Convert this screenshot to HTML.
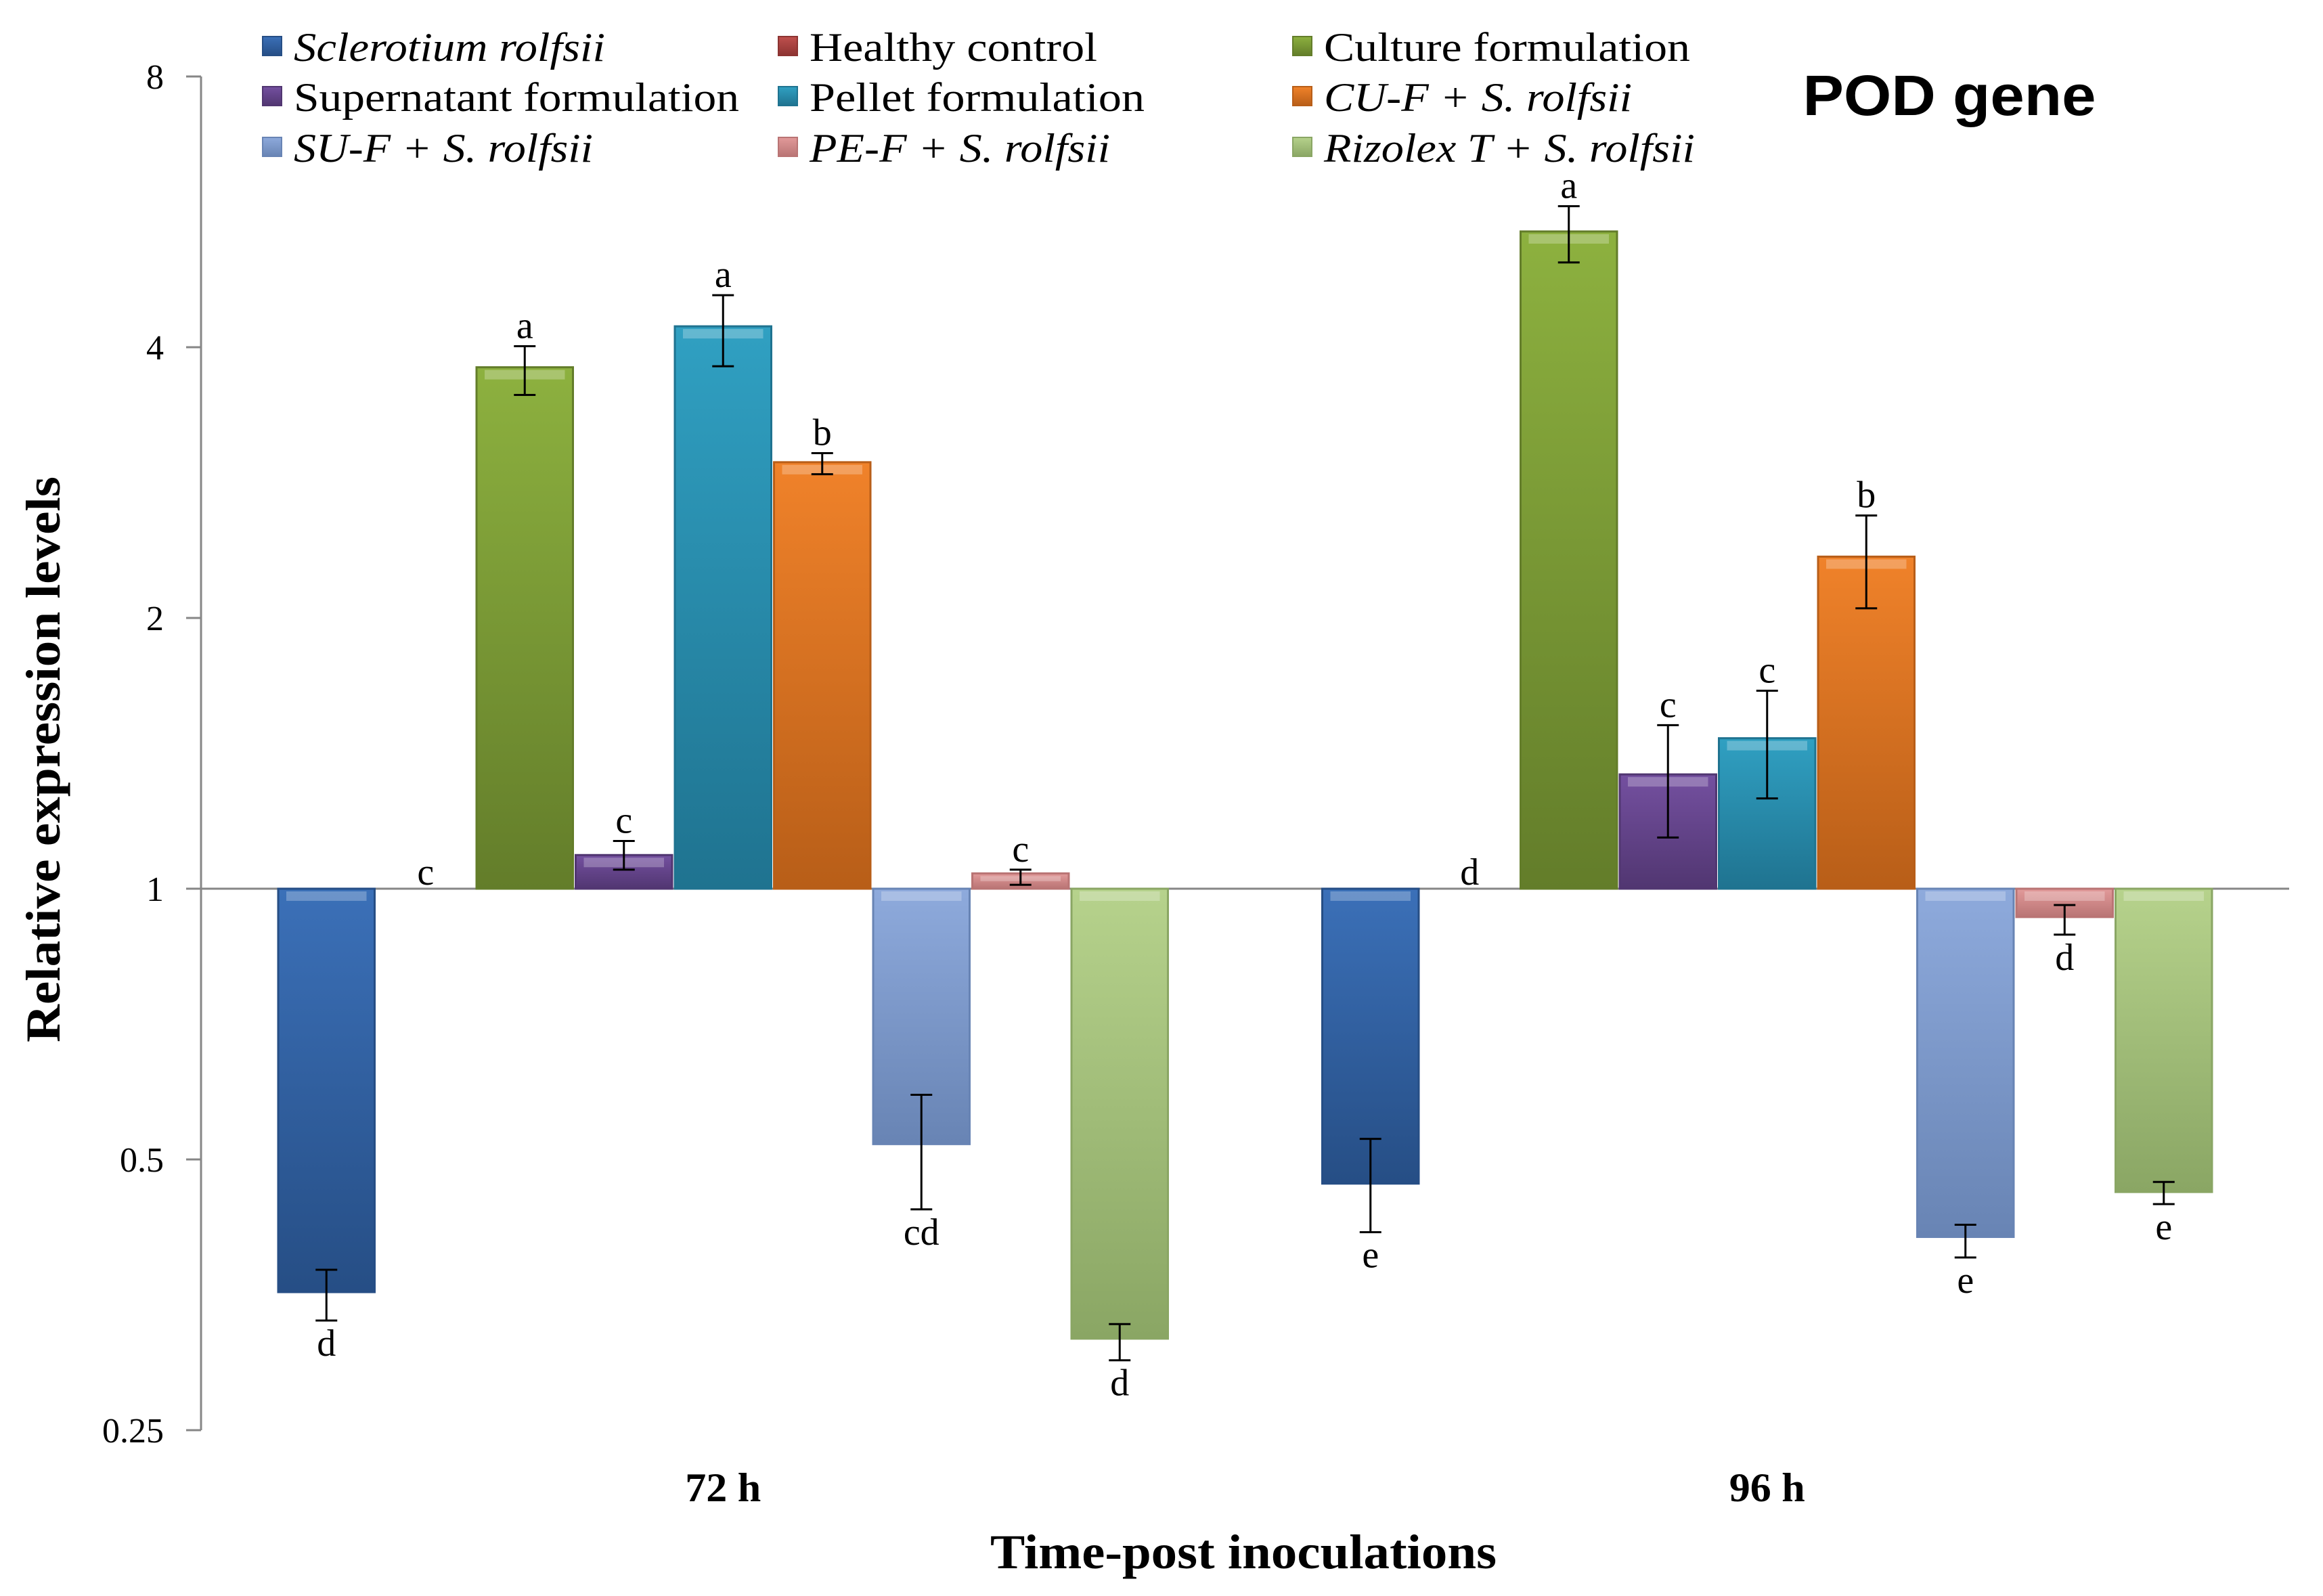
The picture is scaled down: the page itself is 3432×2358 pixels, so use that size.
<!DOCTYPE html>
<html><head><meta charset="utf-8"><style>
html,body{margin:0;padding:0;background:#fff;}
svg{display:block;}
</style></head><body>
<svg id="chart" xmlns="http://www.w3.org/2000/svg" width="3432" height="2358" viewBox="0 0 3432 2358">
<rect width="3432" height="2358" fill="#fff"/>
<g id="axes"></g>
<g id="bars"></g>
<g id="legend"></g>
<text x="2880" y="170" font-family="Liberation Sans, sans-serif" font-weight="bold" font-size="84" text-anchor="middle" textLength="433" lengthAdjust="spacingAndGlyphs">POD gene</text>
<text transform="translate(88,1122) rotate(-90)" font-family="Liberation Serif, serif" font-weight="bold" font-size="72" text-anchor="middle" textLength="836" lengthAdjust="spacingAndGlyphs">Relative expression levels</text>
<text x="1837" y="2317" font-family="Liberation Serif, serif" font-weight="bold" font-size="72" text-anchor="middle" textLength="748" lengthAdjust="spacingAndGlyphs">Time-post inoculations</text>
</svg>
<script>
const categories = ["72 h", "96 h"];
const seriesNames = ["Sclerotium rolfsii","Healthy control","Culture formulation","Supernatant formulation","Pellet formulation","CU-F + S. rolfsii","SU-F + S. rolfsii","PE-F + S. rolfsii","Rizolex T + S. rolfsii"];
const values72 = [0.356, 1, 3.8, 1.09, 4.22, 2.98, 0.52, 1.04, 0.316];
const values96 = [0.47, 1, 5.38, 1.34, 1.47, 2.34, 0.41, 0.93, 0.46];
const errHi72 = [0.377, 1, 4.01, 1.13, 4.57, 3.05, 0.59, 1.05, 0.328];
const errLo72 = [0.331, 1, 3.54, 1.05, 3.81, 2.89, 0.44, 1.01, 0.299];
const errHi96 = [0.527, 1, 5.74, 1.52, 1.66, 2.60, 0.423, 0.959, 0.472];
const errLo96 = [0.415, 1, 4.97, 1.14, 1.26, 2.05, 0.389, 0.889, 0.446];
const letters72 = ["d","c","a","c","a","b","cd","c","d"];
const letters96 = ["e","d","a","c","c","b","e","d","e"];
const yTicks = [0.25, 0.5, 1, 2, 4, 8];
const yTickLabels = ["0.25","0.5","1","2","4","8"];

const NS = "http://www.w3.org/2000/svg";
const colors = ["#3b70b8","#c0504d","#8db13f","#7450a0","#30a0c2","#f0822a","#8eaadc","#e29a9a","#b6d28c"];
const dark = ["#264e85","#8c3432","#637d2a","#513671","#1f7390","#b85e18","#6884b4","#b97474","#8aa664"];
const X0 = 297, X1 = 3382, Y8 = 113, UNIT = 400;
function y(v){ return Y8 + (3 - Math.log2(v)) * UNIT; }
const catW = (X1 - X0) / categories.length;
const barW = 146.5;
function xBar(c, i){ return X0 + catW * c + catW/2 - barW*seriesNames.length/2 + i*barW; }
function mk(tag, attrs, parent){ const e = document.createElementNS(NS, tag); for (const k in attrs) e.setAttribute(k, attrs[k]); parent.appendChild(e); return e; }

const svg = document.getElementById('chart');
const defs = mk('defs', {}, svg);
colors.forEach((c, i) => {
  const g = mk('linearGradient', {id:'g'+i, x1:0, y1:0, x2:0, y2:1}, defs);
  mk('stop', {offset:'0', 'stop-color':c}, g);
  mk('stop', {offset:'1', 'stop-color':dark[i]}, g);
});

const axes = document.getElementById('axes');
const yAxis = mk('line', {x1:X0, y1:Y8, x2:X0, y2:y(0.25), stroke:'#868686', 'stroke-width':3}, axes);


yTicks.forEach((t, i) => {
  const tk = mk('line', {x1:X0-22, y1:y(t), x2:X0, y2:y(t), stroke:'#868686', 'stroke-width':3}, axes);
  
  
  const tl = mk('text', {x:X0-55, y:y(t)+18, 'text-anchor':'end', 'font-family':'Liberation Serif, serif', 'font-size':52}, axes);
  tl.textContent = yTickLabels[i];
  
  
});
categories.forEach((c, ci) => {
  const t = mk('text', {x:X0+catW*ci+catW/2, y:2218, 'text-anchor':'middle', 'font-family':'Liberation Serif, serif', 'font-weight':'bold', 'font-size':60, textLength:112, lengthAdjust:'spacingAndGlyphs'}, axes);
  t.textContent = c;
  
  
});

const bars = document.getElementById('bars');
const allVals = [values72, values96], allHi = [errHi72, errHi96], allLo = [errLo72, errLo96], allLet = [letters72, letters96];
categories.forEach((c, ci) => {
  seriesNames.forEach((s, i) => {
    const v = allVals[ci][i];
    const x = xBar(ci, i);
    const y1 = y(1), yv = y(v);
    const top = Math.min(y1, yv), h = Math.abs(yv - y1);
    if (h > 0.5) {
      const r = mk('rect', {x:x+2, y:top, width:barW-4, height:h, fill:'url(#g'+i+')', stroke:dark[i], 'stroke-width':3}, bars);
      
      
      const hl = mk('rect', {x:x+14, y:top+4, width:barW-28, height:Math.min(14, h/3), fill:'#fff', opacity:0.25}, bars);
      
      
    }
    const cx = x + barW/2;
    const yh = y(allHi[ci][i]), yl = y(allLo[ci][i]);
    if (Math.abs(yl - yh) > 1) {
      const eb = mk('path', {d:`M${cx},${yh}V${yl}M${cx-16},${yh}H${cx+16}M${cx-16},${yl}H${cx+16}`, stroke:'#000', 'stroke-width':3, fill:'none'}, bars);
      
      
    }
    let ly;
    if (v > 1.001) ly = Math.min(yh, yv) - 12;
    else if (v < 0.999) ly = Math.max(yl, yv) + 52;
    else ly = y1 - 6;
    const lt = mk('text', {x:cx, y:ly, 'text-anchor':'middle', 'font-family':'Liberation Serif, serif', 'font-size':56}, bars);
    lt.textContent = allLet[ci][i];
    
    
  });
});
const base = mk('line', {x1:X0, y1:y(1), x2:X1, y2:y(1), stroke:'#868686', 'stroke-width':3}, axes);



const legend = document.getElementById('legend');
const legX = [388, 1150, 1910], legY = [90, 164, 239];
const legW = [460, 425, 541, 658, 495, 455, 442, 444, 548];
const italic = [true,false,false,false,false,true,true,true,true];
seriesNames.forEach((s, i) => {
  const col = i % 3, row = Math.floor(i / 3);
  const x = legX[col], yy = legY[row];
  const sq = mk('rect', {x:x, y:yy-36, width:28, height:28, fill:'url(#g'+i+')', stroke:dark[i], 'stroke-width':2}, legend);
  
  
  const t = mk('text', {x:x+46, y:yy, 'font-family':'Liberation Serif, serif', 'font-size':60, 'font-style':italic[i]?'italic':'normal', textLength:legW[i], lengthAdjust:'spacingAndGlyphs'}, legend);
  t.textContent = s;
  
  
});
</script>
</body></html>
